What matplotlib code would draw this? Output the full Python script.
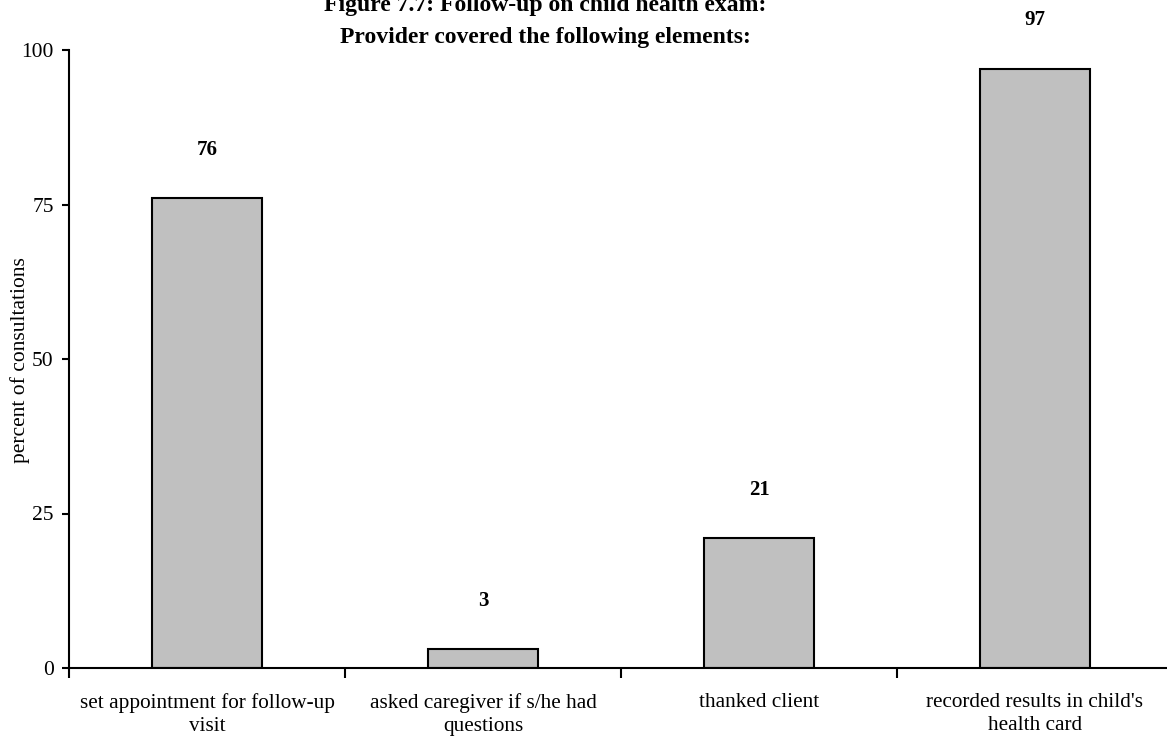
import matplotlib
matplotlib.use("Agg")
import matplotlib.pyplot as plt
import numpy as np

categories = ["set appointment for follow-up\nvisit",
              "asked caregiver if s/he had\nquestions",
              "thanked client",
              "recorded results in child's\nhealth card"]
values = [76, 3, 21, 97]
yticks = [0, 25, 50, 75, 100]

plt.rcParams['font.family'] = ['Liberation Serif', 'DejaVu Serif']

W, H = 1167, 744
fig = plt.figure(figsize=(W/100, H/100), dpi=100)
ax = fig.add_axes([69/W, (H-668)/H, 1104/W, 618/H])

x = np.arange(len(values))
ax.bar(x, values, width=0.40, color='#C0C0C0', edgecolor='black', linewidth=1.5, zorder=2)
for xi, v in zip(x, values):
    ax.annotate(str(v), (xi, v), xytext=(0, 35), textcoords='offset points',
                ha='center', va='center', fontsize=15, fontweight='bold')

ax.set_xlim(-0.5, len(values) - 0.5)
ax.set_ylim(0, 100)
ax.set_yticks(yticks)
ax.set_yticklabels([str(t) for t in yticks], fontsize=15.5)
ax.set_xticks(x)
ax.set_xticklabels(categories, fontsize=15.3, linespacing=1.3)
ax.tick_params(axis='x', which='major', length=0, pad=18)
ax.set_xticks(np.arange(-0.5, len(values), 1.0), minor=True)
ax.tick_params(axis='x', which='minor', length=7, width=1.5, direction='out')
ax.tick_params(axis='y', length=5, width=1.5, direction='out', pad=6)
for s in ['top', 'right']:
    ax.spines[s].set_visible(False)
for s in ['left', 'bottom']:
    ax.spines[s].set_linewidth(1.5)

fig.text(20/W, 1 - 360/H, "percent of consultations", rotation=90, ha='center', va='center',
         fontsize=15.5)

fig.text(545/W, 1 - 6/H, "Figure 7.7: Follow-up on child health exam:", ha='center', va='center',
         fontsize=17, fontweight='bold')
fig.text(545/W, 1 - 37/H, "Provider covered the following elements:", ha='center', va='center',
         fontsize=17, fontweight='bold')

fig.savefig("out.png", dpi=100)
